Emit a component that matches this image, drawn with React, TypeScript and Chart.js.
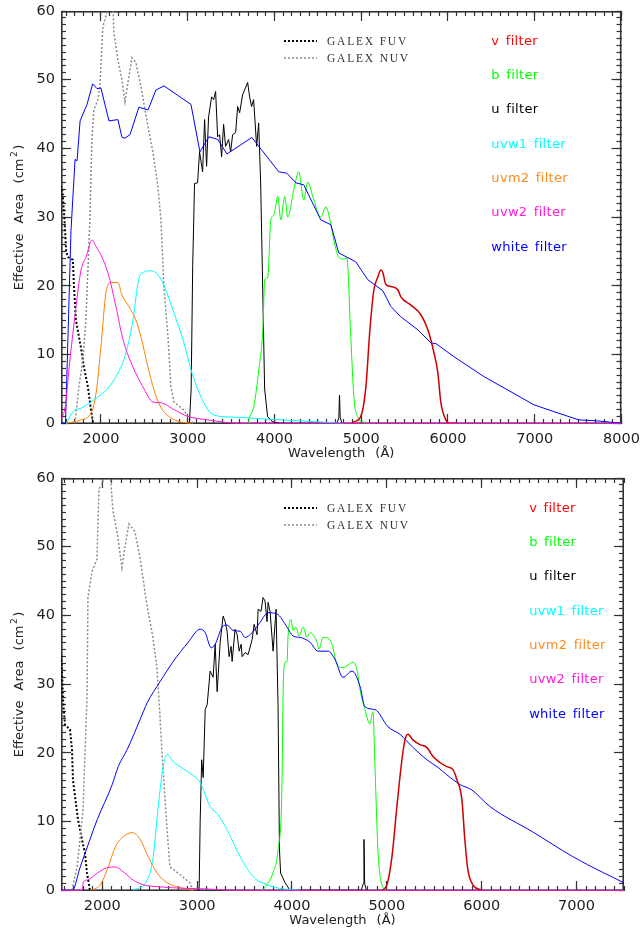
import React, { useEffect, useRef } from 'react';
import { Chart, registerables } from 'chart.js';
Chart.register(...registerables);

type Pt = [number, number];

// ---------- axes ----------
const TOP_X_RANGE: Pt = [1540, 8000];
const BOT_X_RANGE: Pt = [1565, 7500];
const Y_RANGE: Pt = [-0.1, 60];
const TOP_X_TICKS = [2000, 3000, 4000, 5000, 6000, 7000, 8000];
const BOT_X_TICKS = [2000, 3000, 4000, 5000, 6000, 7000];
const Y_TICKS = [0, 10, 20, 30, 40, 50, 60];
const X_MINOR = 100;
const Y_MINOR = 1;
const MAJOR_LEN = 10;
const MINOR_LEN = 5;

const X_TITLE = 'Wavelength (Å)';
const Y_TITLE_MAIN = 'Effective Area (cm';
const Y_TITLE_SUP = '2';
const Y_TITLE_END = ')';

const FILTER_LABELS = ['v filter', 'b filter', 'u filter', 'uvw1 filter', 'uvm2 filter', 'uvw2 filter', 'white filter'];
const GALEX_LABELS = ['GALEX FUV', 'GALEX NUV'];

// ---------- colours ----------
const C_V_TEXT = '#ff0000';
const C_V_LINE = '#cc0000';
const C_B = '#00ff00';
const C_U = '#000000';
const C_UVW1 = '#00ffff';
const C_UVM2 = '#ff8000';
const C_UVM2_TEXT = '#ff8a20';
const C_UVW2 = '#ff18dc';
const C_WHITE = '#0000ff';
const C_FUV = '#000000';
const C_NUV = '#8a8a8a';
const C_AXIS = '#333333';
const FILTER_COLORS = [C_V_TEXT, C_B, C_U, C_UVW1, C_UVM2_TEXT, C_UVW2, C_WHITE];

// ---------- top panel data (wavelength Å, effective area cm²) ----------
const TOP_WHITE: Pt[] = [
  [1540, 0], [1592, 0], [1655, 28], [1702, 38.4], [1725, 38.2], [1760, 44], [1840, 46.4], [1905, 49.4],
  [1955, 48.7], [2000, 48.8], [2093, 44], [2196, 44.2], [2243, 41.6], [2278, 41.5], [2335, 42], [2438, 46],
  [2543, 45.6], [2634, 48.5], [2727, 49.1], [3038, 46.4], [3141, 39.5], [3245, 41.7], [3348, 41.3],
  [3452, 39.2], [3740, 41.6], [4050, 36.6], [4143, 36.4], [4246, 35], [4338, 34.7], [4534, 29.6],
  [4650, 28.9], [4741, 24.8], [4937, 23.5], [5076, 20.9], [5249, 19.3], [5342, 17], [5457, 15.5],
  [5653, 13.6], [5804, 11.7], [5861, 11.6], [6068, 9.7], [6414, 6.8], [6990, 2.7], [7220, 1.7],
  [7508, 0.5], [7727, 0.35], [8000, 0],
];
const TOP_U: Pt[] = [
  [3020, 0], [3040, 5], [3058, 23], [3067, 28], [3079, 34.9], [3114, 35], [3137, 39.5], [3172, 36.6],
  [3195, 44.2], [3218, 37.4], [3241, 44.6], [3276, 47.5], [3299, 47.1], [3322, 48.3], [3345, 41.7],
  [3368, 42], [3391, 38.8], [3414, 43.5], [3437, 40.3], [3472, 41.3], [3495, 39.5], [3518, 42],
  [3553, 42.3], [3576, 46.1], [3599, 45.2], [3633, 47.8], [3656, 48.5], [3691, 49.6], [3714, 47.5],
  [3737, 46.1], [3760, 47.1], [3795, 40.3], [3818, 43.7], [3841, 35], [3852, 28], [3887, 5], [3921, 1],
  [3979, 0.2], [4070, 0], [4720, 0], [4742, 0.8], [4750, 4.1], [4758, 0.8], [4780, 0],
];
const TOP_B: Pt[] = [
  [3700, 0], [3705, 0.5], [3762, 2.4], [3820, 7.8], [3866, 13.6], [3889, 21], [3923, 21.2], [3958, 29.6],
  [3993, 30.3], [4039, 33], [4073, 29.6], [4119, 33], [4153, 30], [4223, 34], [4280, 36.6], [4338, 32.5],
  [4384, 35.1], [4442, 33], [4534, 30], [4592, 31.5], [4650, 29], [4684, 26.7], [4742, 24.2], [4799, 23.9],
  [4834, 24.1], [4880, 12.6], [4915, 3.9], [4961, 0.9], [5019, 0.2], [5100, 0],
];
const TOP_V: Pt[] = [
  [4900, 0], [4915, 0.2], [4995, 1], [5054, 5.3], [5100, 13.6], [5146, 19.4], [5192, 21.3], [5227, 22.3],
  [5250, 21.9], [5284, 20.2], [5342, 19.9], [5423, 19.4], [5457, 18.4], [5572, 17.2], [5688, 15.8],
  [5768, 13.6], [5838, 10.3], [5884, 7.3], [5918, 3], [5976, 0.5], [6010, 0], [6100, 0],
];
const TOP_UVW1: Pt[] = [
  [1600, 0], [1679, 1.7], [1771, 2.2], [1920, 3.4], [2081, 5.1], [2196, 7.3], [2288, 10.2], [2369, 15],
  [2438, 21.1], [2496, 22], [2576, 22.2], [2657, 21.6], [2726, 20.1], [2841, 16.1], [2957, 11.7],
  [3038, 7.8], [3118, 4.9], [3210, 2.4], [3302, 1.2], [3533, 0.9], [3925, 0.6], [4534, 0.2], [4800, 0],
];
const TOP_UVM2: Pt[] = [
  [1600, 0], [1771, 0.5], [1887, 1.5], [1944, 4.4], [2000, 11.1], [2058, 19], [2115, 20.5], [2196, 20.5],
  [2242, 18.7], [2323, 17], [2404, 15], [2461, 12.6], [2542, 8.2], [2611, 4.9], [2692, 2.3], [2807, 0.8],
  [2922, 0.2], [3038, 0],
];
const TOP_UVW2: Pt[] = [
  [1540, 0.5], [1590, 2.5], [1634, 8.2], [1691, 14.6], [1771, 22.3], [1829, 24.2], [1898, 26.7],
  [1944, 25.7], [2000, 24.5], [2081, 21.9], [2173, 17], [2254, 12.2], [2369, 8.2], [2484, 5.3],
  [2600, 3.1], [2692, 3], [2841, 2], [3003, 1], [3234, 0.5], [3465, 0.1], [3600, 0], [8000, 0],
];
const TOP_FUV: Pt[] = [
  [1530, 34.5], [1550, 34.3], [1562, 33], [1580, 29.6], [1600, 25], [1619, 24.2], [1677, 23.8],
  [1689, 20], [1712, 15], [1769, 11.1], [1804, 8.2], [1850, 5.3], [1885, 2], [1908, 0.2], [1915, 0],
];
const TOP_NUV: Pt[] = [
  [1700, 0], [1746, 5.3], [1792, 9.2], [1827, 15], [1850, 22.3], [1873, 29.6], [1896, 41.3], [1919, 45.6],
  [1965, 47.1], [1988, 49], [2023, 57.7], [2069, 59.8], [2092, 61], [2138, 61], [2150, 56.8], [2196, 52.9],
  [2242, 50], [2277, 46.8], [2311, 49.5], [2357, 53.2], [2404, 52.5], [2461, 49], [2542, 43.2],
  [2600, 39.4], [2657, 34.4], [2692, 29.6], [2726, 19.9], [2773, 12.6], [2807, 5.3], [2842, 3.1],
  [2950, 2], [3020, 0.7], [3060, 0],
];

// ---------- bottom panel data ----------
const BOT_WHITE: Pt[] = [
  [1565, 0], [1684, 0], [1768, 3.4], [1842, 6.3], [1947, 10.3], [2105, 15.4], [2168, 18], [2263, 20.5],
  [2400, 24.9], [2474, 27.3], [2611, 30.4], [2748, 33.3], [2906, 36.1], [3032, 38], [3085, 37.5],
  [3148, 35.3], [3190, 35.8], [3264, 38.3], [3316, 38.6], [3379, 37.8], [3453, 37.7], [3506, 36.8],
  [3580, 37.5], [3664, 39], [3748, 40.4], [3843, 40.2], [3948, 38.3], [4011, 37], [4085, 36.8],
  [4190, 36.1], [4274, 34.8], [4380, 34.8], [4453, 33.6], [4538, 31], [4633, 31.9], [4717, 29.7],
  [4769, 26.7], [4875, 26.3], [5012, 23.8], [5138, 22.7], [5275, 20.8], [5422, 19], [5538, 17.9],
  [5633, 16.8], [5770, 15.4], [5896, 14.6], [6086, 12.2], [6538, 8.5], [6960, 4.9], [7276, 2.6],
  [7497, 1.1], [7520, 0.9],
];
const BOT_U: Pt[] = [
  [3021, 0], [3032, 10], [3048, 19], [3064, 16.4], [3085, 26.3], [3106, 27], [3137, 31.9], [3169, 31],
  [3190, 35.8], [3211, 28.9], [3243, 36.1], [3274, 39.9], [3295, 39.1], [3316, 37.7], [3337, 34],
  [3358, 35.5], [3369, 33.3], [3400, 38], [3422, 37.2], [3443, 34.8], [3464, 35.8], [3474, 34],
  [3506, 34.6], [3537, 34.3], [3580, 36.5], [3601, 38.7], [3632, 37.2], [3643, 40.9], [3674, 40.6],
  [3695, 42.6], [3716, 42.1], [3737, 39.1], [3748, 41.9], [3769, 40.6], [3801, 34.8], [3832, 40.9],
  [3853, 27], [3868, 6], [3880, 2.5], [3927, 1.1], [3980, 0], [4730, 0], [4752, 1], [4759, 7.4],
  [4766, 1], [4785, 0],
];
const BOT_B: Pt[] = [
  [3695, 0], [3801, 2.6], [3853, 5.9], [3895, 15.7], [3906, 28.5], [3927, 33.2], [3948, 33.3],
  [3958, 36.8], [3990, 39.4], [4011, 37.8], [4043, 38.3], [4074, 37], [4117, 38.3], [4159, 36.8],
  [4190, 37.5], [4264, 36.1], [4285, 35.1], [4327, 36.8], [4380, 36.7], [4422, 35.8], [4475, 32.9],
  [4538, 32.4], [4643, 33.2], [4685, 32.1], [4717, 29.2], [4769, 26.3], [4822, 24.2], [4853, 26],
  [4875, 18], [4906, 5.9], [4948, 0.8], [5001, 0],
];
const BOT_V: Pt[] = [
  [4948, 0], [5001, 0.8], [5054, 4.9], [5106, 12.2], [5159, 19], [5191, 21.9], [5222, 22.7], [5275, 21.9],
  [5349, 21.2], [5422, 20.8], [5485, 19.5], [5559, 18.6], [5633, 18], [5696, 17.6], [5738, 16.1],
  [5791, 13.2], [5822, 7.4], [5854, 3], [5907, 0.8], [6001, 0],
];
const BOT_UVW1: Pt[] = [
  [2326, 0], [2474, 1.5], [2537, 4.9], [2590, 12.2], [2642, 18], [2684, 19.8], [2748, 18.7], [2842, 17.8],
  [2948, 16.8], [3032, 15.7], [3137, 12.2], [3221, 11], [3316, 8.8], [3453, 4.9], [3590, 2], [3737, 0.8],
  [3906, 0.2], [4085, 0],
];
const BOT_UVM2: Pt[] = [
  [1874, 0], [1979, 0.8], [2063, 3.4], [2137, 6.3], [2221, 7.8], [2316, 8.4], [2400, 7.4], [2484, 4.9],
  [2579, 2.5], [2684, 1.1], [2821, 0.4], [2958, 0],
];
const BOT_UVW2: Pt[] = [
  [1565, 0], [1789, 0], [1800, 1.2], [1842, 1.5], [1947, 2.5], [2053, 3.3], [2137, 3.4], [2221, 2.7],
  [2326, 1.5], [2432, 0.8], [2611, 0.5], [2853, 0.3], [3106, 0.2], [3379, 0], [7500, 0],
];
const BOT_FUV: Pt[] = [
  [1545, 34.6], [1565, 34.4], [1575, 32], [1586, 27.8], [1607, 24.1], [1660, 23.4], [1681, 20.5],
  [1691, 16.1], [1744, 10.3], [1786, 7.4], [1818, 5.4], [1839, 2.5], [1870, 0],
];
const BOT_NUV: Pt[] = [
  [1681, 0], [1734, 3.4], [1765, 7.4], [1797, 11.7], [1839, 28], [1849, 42.6], [1892, 46.4], [1944, 48.2],
  [1965, 58.4], [1997, 59.1], [2028, 61], [2081, 61], [2113, 55.2], [2165, 51.4], [2207, 47], [2239, 49.9],
  [2281, 53.3], [2344, 52.2], [2397, 48.5], [2470, 41.6], [2534, 36.8], [2576, 32.4], [2597, 28],
  [2639, 18], [2681, 9.3], [2713, 3.4], [2818, 2.3], [2923, 1.1], [2955, 0],
];

// ---------- annotation anchors ----------
const LABEL_X_VALUE = 6500;
const LABEL_Y_START = 55.6;
const LABEL_Y_STEP = 5;

const FONT_SANS = '"DejaVu Sans", sans-serif';
const FONT_SERIF = '"Liberation Serif", "DejaVu Serif", serif';

interface PanelCfg {
  top: number;
  xRange: Pt;
  xTicks: number[];
  padRight: number;
  white: Pt[]; u: Pt[]; b: Pt[]; v: Pt[]; uvw1: Pt[]; uvm2: Pt[]; uvw2: Pt[]; fuv: Pt[]; nuv: Pt[];
  whiteSmooth: boolean;
}

const PANELS: PanelCfg[] = [
  {
    top: 0, xRange: TOP_X_RANGE, xTicks: TOP_X_TICKS, padRight: 19.5,
    white: TOP_WHITE, u: TOP_U, b: TOP_B, v: TOP_V, uvw1: TOP_UVW1, uvm2: TOP_UVM2, uvw2: TOP_UVW2,
    fuv: TOP_FUV, nuv: TOP_NUV, whiteSmooth: false,
  },
  {
    top: 467, xRange: BOT_X_RANGE, xTicks: BOT_X_TICKS, padRight: 17,
    white: BOT_WHITE, u: BOT_U, b: BOT_B, v: BOT_V, uvw1: BOT_UVW1, uvm2: BOT_UVM2, uvw2: BOT_UVW2,
    fuv: BOT_FUV, nuv: BOT_NUV, whiteSmooth: true,
  },
];

function stepValues(lo: number, hi: number, step: number): number[] {
  const out: number[] = [];
  const first = Math.ceil(lo / step - 1e-9);
  const last = Math.floor(hi / step + 1e-9);
  for (let k = first; k <= last; k++) out.push(k * step);
  return out;
}

const framePlugin = {
  id: 'idlFrame',
  beforeDatasetsDraw(chart: any) {
    const ctx: CanvasRenderingContext2D = chart.ctx;
    const a = chart.chartArea;
    ctx.save();
    ctx.strokeStyle = C_AXIS;
    ctx.lineWidth = 1.6;
    ctx.strokeRect(a.left + 0.8, a.top + 0.8, a.right - a.left - 1.6, a.bottom - a.top - 1.6);
    ctx.restore();
  },
};

const textPlugin = {
  id: 'idlText',
  afterDraw(chart: any) {
    const { ctx, chartArea: a, scales } = chart;
    const xs = scales.x;
    const ys = scales.y;
    ctx.save();
    ctx.font = `13px ${FONT_SANS}`;
    (ctx as any).letterSpacing = '0.3px';
    (ctx as any).wordSpacing = '2px';
    ctx.textAlign = 'left';
    ctx.textBaseline = 'middle';
    FILTER_LABELS.forEach((t, i) => {
      ctx.fillStyle = FILTER_COLORS[i];
      ctx.fillText(t, xs.getPixelForValue(LABEL_X_VALUE), ys.getPixelForValue(LABEL_Y_START - i * LABEL_Y_STEP));
    });
    ctx.restore();

    ctx.save();
    const lx0 = a.left + 223;
    const lx1 = a.left + 256;
    const rows = [a.top + 30, a.top + 47];
    ctx.lineCap = 'butt';
    ctx.setLineDash([2, 2]);
    ctx.strokeStyle = C_FUV; ctx.lineWidth = 2;
    ctx.beginPath(); ctx.moveTo(lx0, rows[0]); ctx.lineTo(lx1, rows[0]); ctx.stroke();
    ctx.strokeStyle = C_NUV; ctx.lineWidth = 1.5;
    ctx.beginPath(); ctx.moveTo(lx0, rows[1]); ctx.lineTo(lx1, rows[1]); ctx.stroke();
    ctx.setLineDash([]);
    ctx.font = `11.5px ${FONT_SERIF}`;
    (ctx as any).letterSpacing = '1.8px';
    ctx.fillStyle = '#333';
    ctx.textAlign = 'left';
    ctx.textBaseline = 'middle';
    GALEX_LABELS.forEach((t, i) => ctx.fillText(t, a.left + 266, rows[i] + 0.5));
    ctx.restore();

    ctx.save();
    ctx.font = `13px ${FONT_SANS}`;
    (ctx as any).wordSpacing = '6px';
    ctx.fillStyle = '#222';
    ctx.textAlign = 'center';
    ctx.textBaseline = 'middle';
    ctx.fillText(X_TITLE, (a.left + a.right) / 2, a.bottom + 29.5);
    ctx.restore();

    ctx.save();
    ctx.translate(20, (a.top + a.bottom) / 2);
    ctx.rotate(-Math.PI / 2);
    ctx.fillStyle = '#222';
    ctx.textAlign = 'left';
    ctx.textBaseline = 'middle';
    ctx.font = `13px ${FONT_SANS}`;
    (ctx as any).wordSpacing = '6px';
    const w1 = ctx.measureText(Y_TITLE_MAIN).width;
    const w3 = ctx.measureText(Y_TITLE_END).width;
    ctx.font = `9px ${FONT_SANS}`;
    const w2 = ctx.measureText(Y_TITLE_SUP).width;
    const gap = 1.5;
    let p = -(w1 + gap + w2 + gap + w3) / 2;
    ctx.font = `13px ${FONT_SANS}`;
    ctx.fillText(Y_TITLE_MAIN, p, 0);
    p += w1 + gap;
    ctx.font = `9px ${FONT_SANS}`;
    ctx.fillText(Y_TITLE_SUP, p, -5);
    p += w2 + gap;
    ctx.font = `13px ${FONT_SANS}`;
    ctx.fillText(Y_TITLE_END, p, 0);
    ctx.restore();
  },
};

function toXY(d: Pt[]) {
  return d.map(([x, y]) => ({ x, y }));
}

function line(d: Pt[], color: string, width: number, order: number, smooth: boolean, dash?: number[]) {
  return {
    data: toXY(d),
    borderColor: color,
    backgroundColor: color,
    borderWidth: width,
    pointRadius: 0,
    fill: false,
    tension: 0,
    cubicInterpolationMode: smooth ? 'monotone' : 'default',
    borderDash: dash || [],
    order,
  };
}

const TICK_FONT = { family: FONT_SANS, size: 14.5 };
const plain = (v: any) => String(v);

// An axis whose (inward) tick marks are drawn by Chart.js itself.
function axis(
  position: 'bottom' | 'top' | 'left' | 'right',
  range: Pt,
  values: number[],
  tickLen: number,
  weight: number,
  labelled: boolean,
  labelPadding: number,
  size: number,
) {
  const horizontal = position === 'bottom' || position === 'top';
  return {
    type: 'linear',
    position,
    min: range[0],
    max: range[1],
    weight,
    grid: {
      display: true,
      drawOnChartArea: false,
      drawTicks: true,
      tickLength: -tickLen,
      tickColor: C_AXIS,
      tickWidth: 1.2,
    },
    border: { display: false },
    ticks: labelled
      ? { display: true, font: TICK_FONT, color: '#222', padding: labelPadding + tickLen, maxRotation: 0, autoSkip: false, callback: plain }
      : { display: false, autoSkip: false },
    afterBuildTicks: (s: any) => { s.ticks = values.map((v) => ({ value: v })); },
    afterFit: (s: any) => {
      if (horizontal) s.height = size; else s.width = size;
      s.paddingLeft = 0; s.paddingRight = 0; s.paddingTop = 0; s.paddingBottom = 0;
    },
  };
}

function makeConfig(cfg: PanelCfg): any {
  const xMinor = stepValues(cfg.xRange[0], cfg.xRange[1], X_MINOR);
  const yMinor = stepValues(0, Y_RANGE[1], Y_MINOR);
  return {
    type: 'line',
    data: {
      datasets: [
        line(cfg.uvw2, C_UVW2, 1, 0, true),
        line(cfg.v, C_V_LINE, 1.5, 1, true),
        line(cfg.white, C_WHITE, 1, 2, cfg.whiteSmooth),
        line(cfg.b, C_B, 1, 3, true),
        line(cfg.uvw1, C_UVW1, 1, 4, true),
        line(cfg.uvm2, C_UVM2, 1, 5, true),
        line(cfg.u, C_U, 1, 6, false),
        line(cfg.nuv, C_NUV, 1.5, 7, false, [2, 2]),
        line(cfg.fuv, C_FUV, 2, 8, false, [2, 2]),
      ],
    },
    options: {
      animation: false,
      responsive: false,
      events: [],
      parsing: false,
      normalized: true,
      layout: { autoPadding: false, padding: { left: 0, top: 11, right: cfg.padRight, bottom: 0 } },
      plugins: { legend: { display: false }, tooltip: { enabled: false }, title: { display: false } },
      scales: {
        x: axis('bottom', cfg.xRange, cfg.xTicks, MAJOR_LEN, 0, true, 7, 44),
        xMinorB: axis('bottom', cfg.xRange, xMinor, MINOR_LEN, -2, false, 0, 0),
        xTop: axis('top', cfg.xRange, cfg.xTicks, MAJOR_LEN, -1, false, 0, 0),
        xMinorT: axis('top', cfg.xRange, xMinor, MINOR_LEN, -2, false, 0, 0),
        y: axis('left', Y_RANGE, Y_TICKS, MAJOR_LEN, 0, true, 6, 61),
        yMinorL: axis('left', Y_RANGE, yMinor, MINOR_LEN, -2, false, 0, 0),
        yRight: axis('right', Y_RANGE, Y_TICKS, MAJOR_LEN, -1, false, 0, 0),
        yMinorR: axis('right', Y_RANGE, yMinor, MINOR_LEN, -2, false, 0, 0),
      },
    },
    plugins: [framePlugin, textPlugin],
  };
}

function Panel({ cfg }: { cfg: PanelCfg }) {
  const ref = useRef<HTMLCanvasElement>(null);
  useEffect(() => {
    const chart = new Chart(ref.current as HTMLCanvasElement, makeConfig(cfg));
    return () => chart.destroy();
  }, [cfg]);
  return (
    <canvas
      ref={ref}
      width={641}
      height={468}
      style={{ position: 'absolute', left: 0, top: cfg.top, width: 641, height: 468 }}
    />
  );
}

export default function App() {
  return (
    <div style={{ position: 'absolute', left: 0, top: 0, width: 641, height: 935, background: '#fff' }}>
      {PANELS.map((p, i) => (
        <Panel key={i} cfg={p} />
      ))}
    </div>
  );
}
